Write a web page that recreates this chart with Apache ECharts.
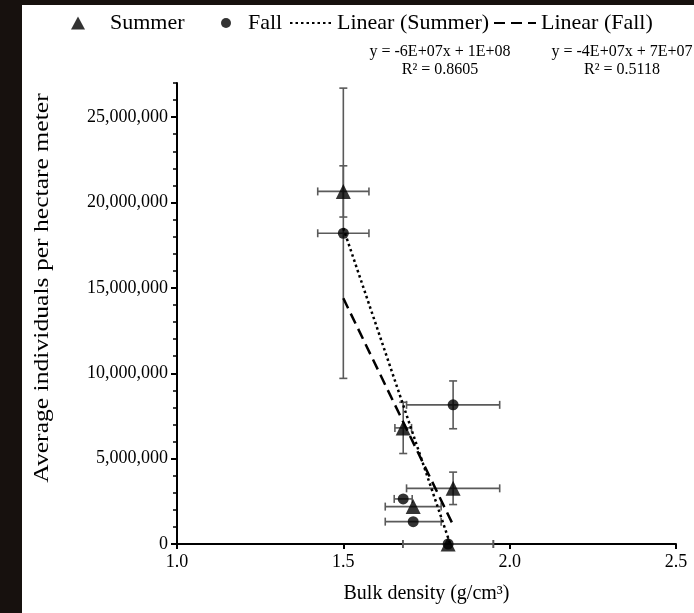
<!DOCTYPE html>
<html>
<head>
<meta charset="utf-8">
<script src="https://cdn.jsdelivr.net/npm/echarts@6/dist/echarts.min.js"></script>
<style>
    html, body { margin: 0; padding: 0; background: #17110e; }
    #chart { width: 694px; height: 613px; }
</style>
</head>
<body>
<div id="chart"></div>
<script>
// bulk density (x) vs individuals per hectare meter (y), with x / y error
var summerX    = [1.50, 1.68, 1.83, 1.71, 1.815];
var summerY    = [20650000, 6800000, 3260000, 2190000, 0];
var summerXErr = [0.077, 0.025, 0.14, 0.084, 0.136];
var summerYErr = [1500000, 1500000, 950000, 0, 0];

var fallX    = [1.50, 1.83, 1.68, 1.71, 1.815];
var fallY    = [18200000, 8150000, 2640000, 1310000, 0];
var fallXErr = [0.077, 0.14, 0.027, 0.084, 0.136];
var fallYErr = [8500000, 1400000, 0, 0, 0];

var xTicks = [1.0, 1.5, 2.0, 2.5];
var yTicks = [0, 5000000, 10000000, 15000000, 20000000, 25000000];
var yMax = 27000000;

var summerEq = ['y = -6E+07x + 1E+08', 'R² = 0.8605'];
var fallEq   = ['y = -4E+07x + 7E+07', 'R² = 0.5118'];

var FONT = '"Liberation Serif", "Times New Roman", serif';

// least squares line over the x range of the points
function trend(xs, ys) {
    var n = xs.length, mx = 0, my = 0, sxy = 0, sxx = 0;
    for (var i = 0; i < n; i++) { mx += xs[i] / n; my += ys[i] / n; }
    for (var j = 0; j < n; j++) {
        sxy += (xs[j] - mx) * (ys[j] - my);
        sxx += (xs[j] - mx) * (xs[j] - mx);
    }
    var b = sxy / sxx, a = my - b * mx;
    var x0 = Math.min.apply(null, xs), x1 = Math.max.apply(null, xs);
    return [[x0, a + b * x0], [x1, a + b * x1]];
}

function zip(xs, ys, exs, eys) {
    return xs.map(function(x, i) {
        return exs ? [x, ys[i], exs[i], eys[i]] : [x, ys[i]];
    });
}

function errorBars(params, api) {
    var x = api.value(0), y = api.value(1), ex = api.value(2), ey = api.value(3);
    var style = { stroke: '#5a5a5a', lineWidth: 1.6 };
    var cap = 4;
    var kids = [];
    function seg(x1, y1, x2, y2) {
        kids.push({ type: 'line', shape: { x1: x1, y1: y1, x2: x2, y2: y2 }, style: style });
    }
    if (ex > 0) {
        var l = api.coord([x - ex, y]), r = api.coord([x + ex, y]);
        seg(l[0], l[1], r[0], r[1]);
        seg(l[0], l[1] - cap, l[0], l[1] + cap);
        seg(r[0], r[1] - cap, r[0], r[1] + cap);
    }
    if (ey > 0) {
        var t = api.coord([x, y + ey]), b = api.coord([x, y - ey]);
        seg(t[0], t[1], b[0], b[1]);
        seg(t[0] - cap, t[1], t[0] + cap, t[1]);
        seg(b[0] - cap, b[1], b[0] + cap, b[1]);
    }
    return { type: 'group', children: kids };
}

// one legend box per entry so each sits where it does in the figure
function legendAt(name, left, width, gap, icon) {
    var item = { name: name };
    if (icon) item.icon = icon;
    return {
        data: [item],
        left: left,
        top: 12,
        padding: 0,
        itemWidth: width,
        itemHeight: 13,
        symbolKeepAspect: true,
        selectedMode: false,
        textStyle: { fontFamily: FONT, fontSize: 22, color: '#000', padding: [0, 0, 0, gap] }
    };
}

var eqStyle = { font: '16px ' + FONT, fill: '#000', textAlign: 'center', textVerticalAlign: 'middle' };

var chart = echarts.init(document.getElementById('chart'));
chart.setOption({
    backgroundColor: '#17110e',
    animation: false,
    grid: { left: 177, right: 18, top: 83, bottom: 69 },
    graphic: [
        { type: 'rect', z: -10, shape: { x: 22, y: 5, width: 672, height: 608 }, style: { fill: '#fff' } },
        { type: 'text', x: 440, y: 52, style: Object.assign({ text: summerEq[0] }, eqStyle) },
        { type: 'text', x: 440, y: 70, style: Object.assign({ text: summerEq[1] }, eqStyle) },
        { type: 'text', x: 622, y: 52, style: Object.assign({ text: fallEq[0] }, eqStyle) },
        { type: 'text', x: 622, y: 70, style: Object.assign({ text: fallEq[1] }, eqStyle) },
        {
            type: 'text', x: 42, y: 288, rotation: Math.PI / 2, scaleX: 1.22,
            style: {
                text: 'Average individuals per hectare meter',
                font: '21px ' + FONT, fill: '#000', textAlign: 'center', textVerticalAlign: 'middle'
            }
        }
    ],
    legend: [
        legendAt('Summer', 71, 14, 20, 'triangle'),
        legendAt('Fall', 221, 10, 12, 'circle'),
        legendAt('Linear (Summer)', 289, 42, 0),
        legendAt('Linear (Fall)', 493, 42, 0)
    ],
    xAxis: {
        type: 'value',
        min: xTicks[0],
        max: xTicks[xTicks.length - 1],
        interval: xTicks[1] - xTicks[0],
        name: 'Bulk density (g/cm³)',
        nameLocation: 'middle',
        nameGap: 40,
        nameTextStyle: { fontFamily: FONT, fontSize: 20, color: '#000' },
        axisLine: { lineStyle: { color: '#000', width: 2 } },
        axisTick: { length: 5, lineStyle: { color: '#000', width: 2 } },
        axisLabel: {
            fontFamily: FONT, fontSize: 18, color: '#000', margin: 9,
            formatter: function(v) { return v.toFixed(1); }
        },
        splitLine: { show: false }
    },
    yAxis: [{
        type: 'value',
        min: 0,
        max: yMax,
        interval: yTicks[1] - yTicks[0],
        axisLine: { show: true, lineStyle: { color: '#000', width: 2 } },
        axisTick: { show: true, length: 6, lineStyle: { color: '#000', width: 2 } },
        axisLabel: {
            fontFamily: FONT, fontSize: 18, color: '#000', margin: 9, showMaxLabel: false,
            formatter: function(v) { return v.toLocaleString('en-US'); }
        },
        splitLine: { show: false }
    }, {
        // minor ticks every 1,000,000
        type: 'value',
        position: 'left',
        min: 0,
        max: yMax,
        interval: 1000000,
        axisLine: { show: false },
        axisTick: { show: true, length: 4, lineStyle: { color: '#000', width: 1.5 } },
        axisLabel: { show: false },
        splitLine: { show: false }
    }],
    series: [
        {
            name: 'Summer err', type: 'custom', z: 1, clip: false,
            renderItem: errorBars, encode: { x: 0, y: 1 },
            data: zip(summerX, summerY, summerXErr, summerYErr)
        },
        {
            name: 'Fall err', type: 'custom', z: 1, clip: false,
            renderItem: errorBars, encode: { x: 0, y: 1 },
            data: zip(fallX, fallY, fallXErr, fallYErr)
        },
        {
            name: 'Linear (Summer)', type: 'line', z: 2, showSymbol: false,
            itemStyle: { color: '#000', opacity: 0 },
            lineStyle: { color: '#000', width: 2.5, type: [2.5, 3] },
            data: trend(summerX, summerY)
        },
        {
            name: 'Linear (Fall)', type: 'line', z: 2, showSymbol: false,
            itemStyle: { color: '#000', opacity: 0 },
            lineStyle: { color: '#000', width: 2.5, type: [11, 6] },
            data: trend(fallX, fallY)
        },
        {
            name: 'Fall', type: 'scatter', z: 3, symbol: 'circle', symbolSize: 11,
            itemStyle: { color: '#000' },
            data: zip(fallX, fallY)
        },
        {
            name: 'Summer', type: 'scatter', z: 4, symbol: 'triangle', symbolSize: 15,
            itemStyle: { color: '#000' },
            data: zip(summerX, summerY)
        }
    ]
});
</script>
</body>
</html>
